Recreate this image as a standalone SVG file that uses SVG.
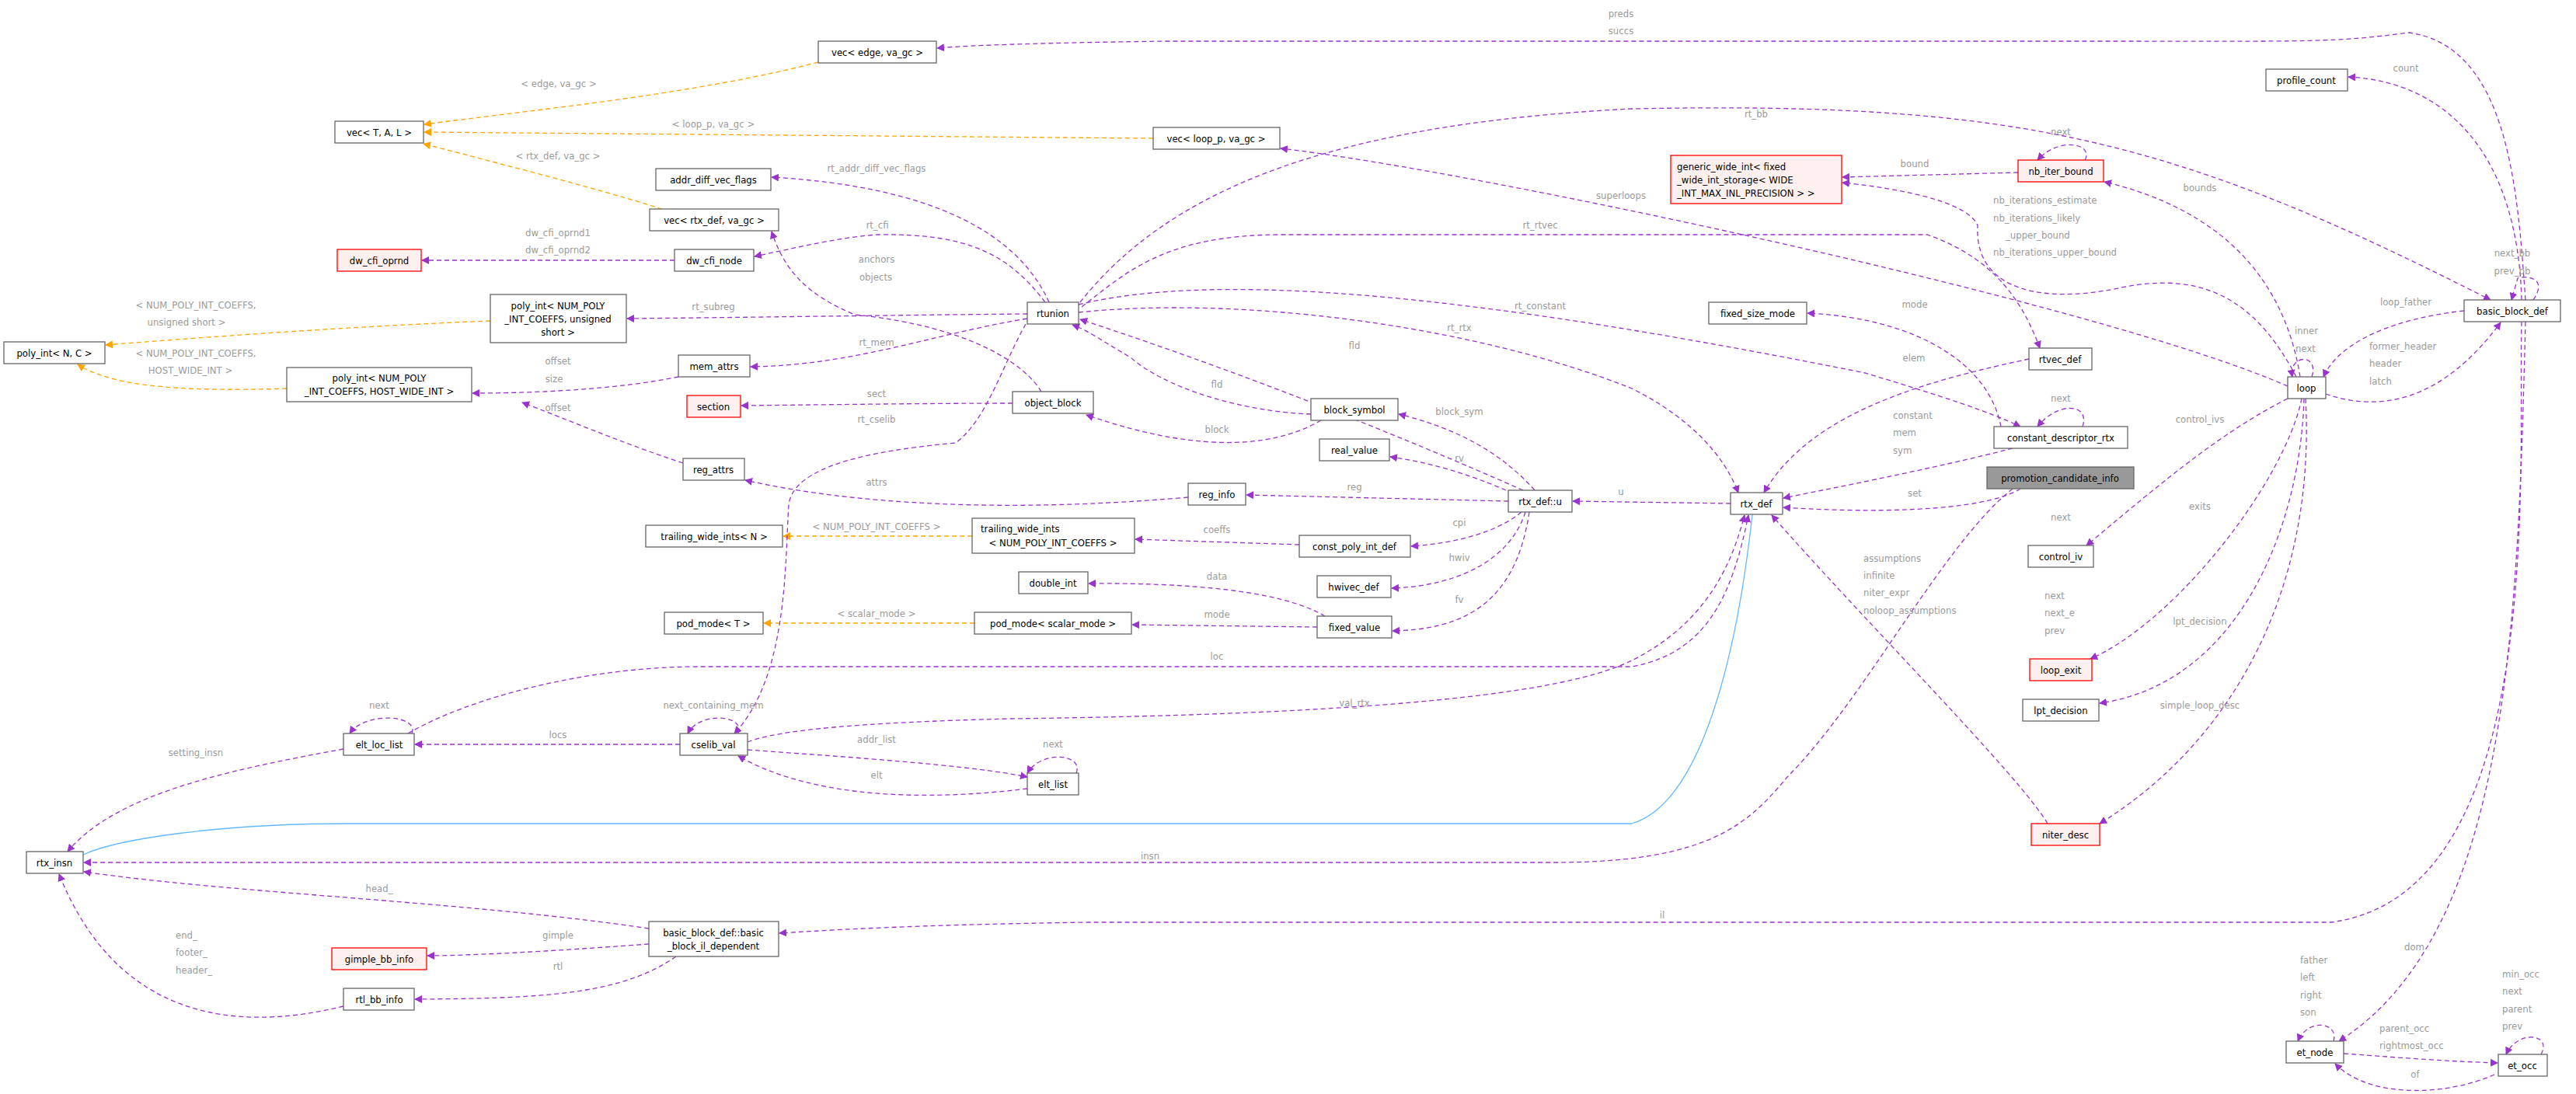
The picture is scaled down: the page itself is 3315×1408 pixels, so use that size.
<svg xmlns="http://www.w3.org/2000/svg" width="3315" height="1408" viewBox="0 0 3315 1408">
<defs>
<marker id="ap" viewBox="0 0 10 10" refX="9" refY="5" markerWidth="10" markerHeight="10" markerUnits="userSpaceOnUse" orient="auto"><path d="M0,0 L10,5 L0,10 z" fill="#9a32cd"/></marker>
<marker id="ao" viewBox="0 0 10 10" refX="9" refY="5" markerWidth="10" markerHeight="10" markerUnits="userSpaceOnUse" orient="auto"><path d="M0,0 L10,5 L0,10 z" fill="#ffa500"/></marker>
</defs>
<style>
.n rect{fill:#fff;stroke:#666;stroke-width:1.3}
.n.r rect{fill:#fff0f0;stroke:#ff0000}
.n.g rect{fill:#999;stroke:#666}
text{font-family:"DejaVu Sans Condensed","DejaVu Sans",sans-serif;font-size:13px}
.n text{fill:#000;text-anchor:middle}
.l{fill:#9a9a9a;text-anchor:middle}
.ls{fill:#9a9a9a;text-anchor:start}
.p{fill:none;stroke:#9a32cd;stroke-width:1.3;stroke-dasharray:6,4;marker-end:url(#ap)}
.o{fill:none;stroke:#ffa500;stroke-width:1.3;stroke-dasharray:6,4;marker-end:url(#ao)}
.b{fill:none;stroke:#63b8ff;stroke-width:1.3}
</style>
<rect width="3315" height="1408" fill="#fff"/>
<g id="edges">
<path class="o" d="M1053,80 C900,120 700,140 546,160"/>
<path class="o" d="M1484,178 L546,170"/>
<path class="o" d="M852,269 C760,240 640,210 545,185"/>
<path class="o" d="M631,413 C450,420 250,435 136,444"/>
<path class="o" d="M369,500 C220,505 140,495 100,469"/>
<path class="o" d="M1251,690 L1008,690"/>
<path class="o" d="M1254,802 L983,802"/>
<path class="p" d="M868,335 L543,335"/>
<path class="p" d="M3250,386 C3240,250 3230,60 3100,42 C3000,55 2980,53 2700,53 L1500,53 C1350,55 1250,58 1206,62"/>
<path class="p" d="M3245,386 C3240,200 3150,105 3022,99"/>
<path class="p" d="M3260,386 C3280,356 3250,355 3240,358 L3232,386"/>
<path class="p" d="M3171,400 C3080,410 3010,440 2990,485"/>
<path class="p" d="M2993,507 C3060,530 3140,520 3218,415"/>
<path class="p" d="M2975,485 C2985,455 2945,455 2950,485"/>
<path class="p" d="M2944,497 C2700,390 1900,220 1648,191"/>
<path class="p" d="M2960,485 C2940,360 2860,270 2708,234"/>
<path class="p" d="M2955,485 C2900,380 2830,350 2730,370 C2640,390 2540,380 2545,290 C2530,255 2420,240 2371,235"/>
<path class="p" d="M2597,222 L2371,228"/>
<path class="p" d="M2683,206 C2695,185 2650,175 2622,206"/>
<path class="p" d="M2944,513 C2850,560 2760,640 2685,702"/>
<path class="p" d="M2962,513 C2940,620 2800,800 2690,848"/>
<path class="p" d="M2965,513 C2960,680 2880,880 2702,905"/>
<path class="p" d="M2967,513 C2980,750 2880,950 2702,1060"/>
<path class="p" d="M1390,389 C1500,250 1700,160 2100,140 C2600,130 2800,180 3205,386"/>
<path class="p" d="M1392,395 C1450,350 1500,302 1650,302 L2480,302 C2560,330 2600,380 2625,448"/>
<path class="p" d="M1345,389 C1300,330 1250,300 1130,302 C1080,305 1020,320 971,330"/>
<path class="p" d="M1350,389 C1310,300 1200,240 993,228"/>
<path class="p" d="M1322,404 C1200,405 1000,408 807,410"/>
<path class="p" d="M1322,410 C1200,430 1100,470 966,472"/>
<path class="p" d="M1303,519 C1200,519 1050,521 954,522"/>
<path class="p" d="M1340,504 C1320,470 1250,420 1100,405 C1040,380 1010,350 993,298"/>
<path class="p" d="M1320,417 C1290,470 1270,540 1230,570 C1120,580 1020,600 1015,650 C1010,720 1015,870 945,944"/>
<path class="p" d="M1700,541 C1650,570 1560,590 1398,534"/>
<path class="p" d="M1687,533 C1600,530 1500,500 1455,460 C1420,440 1400,425 1380,418"/>
<path class="p" d="M1960,631 C1800,560 1600,480 1390,411"/>
<path class="p" d="M1975,631 C1930,580 1870,550 1800,533"/>
<path class="p" d="M1938,631 C1890,610 1840,595 1789,588"/>
<path class="p" d="M1941,645 L1604,637"/>
<path class="p" d="M1529,640 C1300,660 1100,650 959,618"/>
<path class="p" d="M879,596 C800,570 730,540 672,518"/>
<path class="p" d="M873,485 C800,500 700,506 608,506"/>
<path class="p" d="M1958,659 C1920,690 1860,700 1816,703"/>
<path class="p" d="M1672,701 L1461,694"/>
<path class="p" d="M1963,659 C1940,730 1860,755 1791,757"/>
<path class="p" d="M1968,659 C1950,780 1880,810 1792,812"/>
<path class="p" d="M1705,793 C1650,760 1530,750 1401,751"/>
<path class="p" d="M1695,807 L1457,804"/>
<path class="p" d="M2227,648 L2024,645"/>
<path class="p" d="M1388,402 C1600,380 1900,420 2100,500 C2180,540 2220,590 2237,634"/>
<path class="p" d="M1388,392 C1600,340 2000,400 2400,480 C2500,510 2560,530 2600,549"/>
<path class="p" d="M2590,577 C2500,600 2400,620 2295,641"/>
<path class="p" d="M2680,549 C2690,520 2650,515 2622,549"/>
<path class="p" d="M2575,549 C2560,470 2470,410 2326,403"/>
<path class="p" d="M2611,462 C2480,490 2330,530 2270,634"/>
<path class="p" d="M2600,629 C2550,660 2400,660 2295,653"/>
<path class="p" d="M2590,629 C2500,700 2400,900 2300,1000 C2250,1060 2200,1110 2000,1110 L108,1110"/>
<path class="p" d="M2635,1060 C2600,1000 2400,800 2280,663"/>
<path class="p" d="M525,944 C600,900 750,858 900,858 L2100,858 C2200,840 2230,760 2250,663"/>
<path class="p" d="M962,955 C1000,940 1100,930 1300,925 C1700,920 2000,900 2100,850 C2200,800 2230,720 2245,663"/>
<path class="p" d="M875,958 L534,958"/>
<path class="p" d="M950,944 C960,920 900,915 885,944"/>
<path class="p" d="M962,965 C1100,975 1250,985 1322,1000"/>
<path class="p" d="M1322,1015 C1200,1030 1050,1030 950,973"/>
<path class="p" d="M1385,995 C1395,970 1340,965 1322,995"/>
<path class="p" d="M530,944 C540,920 470,915 450,944"/>
<path class="p" d="M442,964 C300,990 150,1020 87,1096"/>
<path class="b" d="M107,1100 C150,1080 280,1060 450,1060 L2100,1060 C2200,1030 2240,800 2255,662"/>
<path class="p" d="M835,1195 C600,1160 300,1150 108,1122"/>
<path class="p" d="M835,1215 C700,1225 600,1230 550,1230"/>
<path class="p" d="M870,1231 C800,1280 700,1285 534,1286"/>
<path class="p" d="M442,1295 C300,1330 150,1310 76,1125"/>
<path class="p" d="M3245,414 C3240,600 3280,1150 3000,1187 L1400,1187 C1200,1190 1100,1195 1003,1201"/>
<path class="p" d="M3250,414 C3240,800 3230,1200 3010,1340"/>
<path class="p" d="M3003,1340 C3010,1315 2970,1310 2957,1340"/>
<path class="p" d="M3016,1356 C3100,1362 3150,1366 3214,1368"/>
<path class="p" d="M3210,1383 C3150,1410 3050,1415 3005,1369"/>
<path class="p" d="M3270,1357 C3285,1330 3240,1325 3225,1357"/>
</g>
<g id="n_vec_edge" class="n"><rect x="1053" y="53" width="152" height="28"/><text x="1129" y="72">vec&lt; edge, va_gc &gt;</text></g>
<g id="n_vec_tal" class="n"><rect x="431" y="156" width="114" height="28"/><text x="488" y="175">vec&lt; T, A, L &gt;</text></g>
<g id="n_vec_loop" class="n"><rect x="1484" y="164" width="163" height="28"/><text x="1565" y="183">vec&lt; loop_p, va_gc &gt;</text></g>
<g id="n_adv" class="n"><rect x="844" y="217" width="148" height="28"/><text x="918" y="236">addr_diff_vec_flags</text></g>
<g id="n_vec_rtx" class="n"><rect x="836" y="269" width="166" height="28"/><text x="919" y="288">vec&lt; rtx_def, va_gc &gt;</text></g>
<g id="n_dwo" class="n r"><rect x="434" y="321" width="108" height="28"/><text x="488" y="340">dw_cfi_oprnd</text></g>
<g id="n_dwn" class="n"><rect x="868" y="321" width="102" height="28"/><text x="919" y="340">dw_cfi_node</text></g>
<g id="n_pius" class="n"><rect x="631" y="379" width="175" height="62"/><text x="718" y="398">poly_int&lt; NUM_POLY</text><text x="718" y="415">_INT_COEFFS, unsigned</text><text x="718" y="432">short &gt;</text></g>
<g id="n_pinc" class="n"><rect x="5" y="440" width="130" height="28"/><text x="70" y="459">poly_int&lt; N, C &gt;</text></g>
<g id="n_mem" class="n"><rect x="873" y="457" width="92" height="28"/><text x="919" y="476">mem_attrs</text></g>
<g id="n_pihwi" class="n"><rect x="369" y="473" width="238" height="44"/><text x="488" y="491">poly_int&lt; NUM_POLY</text><text x="488" y="508">_INT_COEFFS, HOST_WIDE_INT &gt;</text></g>
<g id="n_section" class="n r"><rect x="884" y="509" width="69" height="28"/><text x="918" y="528">section</text></g>
<g id="n_regattrs" class="n"><rect x="879" y="590" width="79" height="28"/><text x="918" y="609">reg_attrs</text></g>
<g id="n_twin" class="n"><rect x="831" y="676" width="176" height="28"/><text x="919" y="695">trailing_wide_ints&lt; N &gt;</text></g>
<g id="n_podt" class="n"><rect x="855" y="788" width="127" height="28"/><text x="918" y="807">pod_mode&lt; T &gt;</text></g>
<g id="n_ell" class="n"><rect x="442" y="944" width="91" height="28"/><text x="488" y="963">elt_loc_list</text></g>
<g id="n_cselib" class="n"><rect x="875" y="944" width="87" height="28"/><text x="918" y="963">cselib_val</text></g>
<g id="n_rtunion" class="n"><rect x="1322" y="389" width="66" height="28"/><text x="1355" y="408">rtunion</text></g>
<g id="n_objblock" class="n"><rect x="1303" y="504" width="104" height="28"/><text x="1355" y="523">object_block</text></g>
<g id="n_blocksym" class="n"><rect x="1687" y="513" width="112" height="28"/><text x="1743" y="532">block_symbol</text></g>
<g id="n_realv" class="n"><rect x="1698" y="565" width="90" height="28"/><text x="1743" y="584">real_value</text></g>
<g id="n_reginfo" class="n"><rect x="1529" y="622" width="74" height="28"/><text x="1566" y="641">reg_info</text></g>
<g id="n_u" class="n"><rect x="1941" y="631" width="82" height="28"/><text x="1982" y="650">rtx_def::u</text></g>
<g id="n_twinum" class="n"><rect x="1251" y="667" width="209" height="45"/><text x="1262" y="685" style="text-anchor:start">trailing_wide_ints</text><text x="1355" y="703">&lt; NUM_POLY_INT_COEFFS &gt;</text></g>
<g id="n_cpid" class="n"><rect x="1672" y="689" width="143" height="28"/><text x="1743" y="708">const_poly_int_def</text></g>
<g id="n_dint" class="n"><rect x="1311" y="736" width="89" height="28"/><text x="1355" y="755">double_int</text></g>
<g id="n_hwivec" class="n"><rect x="1695" y="741" width="95" height="28"/><text x="1742" y="760">hwivec_def</text></g>
<g id="n_podsm" class="n"><rect x="1254" y="788" width="202" height="28"/><text x="1355" y="807">pod_mode&lt; scalar_mode &gt;</text></g>
<g id="n_fixv" class="n"><rect x="1695" y="793" width="96" height="28"/><text x="1743" y="812">fixed_value</text></g>
<g id="n_eltlist" class="n"><rect x="1322" y="995" width="66" height="28"/><text x="1355" y="1014">elt_list</text></g>
<g id="n_gwi" class="n r"><rect x="2150" y="200" width="220" height="62"/><text x="2158" y="219" style="text-anchor:start">generic_wide_int&lt; fixed</text><text x="2158" y="236" style="text-anchor:start">_wide_int_storage&lt; WIDE</text><text x="2158" y="253" style="text-anchor:start">_INT_MAX_INL_PRECISION &gt; &gt;</text></g>
<g id="n_nib" class="n r"><rect x="2597" y="206" width="110" height="28"/><text x="2652" y="225">nb_iter_bound</text></g>
<g id="n_profile" class="n"><rect x="2916" y="89" width="105" height="28"/><text x="2968" y="108">profile_count</text></g>
<g id="n_bbd" class="n"><rect x="3171" y="386" width="124" height="28"/><text x="3233" y="405">basic_block_def</text></g>
<g id="n_fsm" class="n"><rect x="2199" y="389" width="126" height="28"/><text x="2262" y="408">fixed_size_mode</text></g>
<g id="n_rtvec" class="n"><rect x="2611" y="448" width="81" height="28"/><text x="2651" y="467">rtvec_def</text></g>
<g id="n_loop" class="n"><rect x="2944" y="485" width="49" height="28"/><text x="2968" y="504">loop</text></g>
<g id="n_cdr" class="n"><rect x="2566" y="549" width="172" height="28"/><text x="2652" y="568">constant_descriptor_rtx</text></g>
<g id="n_pci" class="n g"><rect x="2557" y="601" width="189" height="28"/><text x="2651" y="620">promotion_candidate_info</text></g>
<g id="n_rtxdef" class="n"><rect x="2227" y="634" width="67" height="28"/><text x="2260" y="653">rtx_def</text></g>
<g id="n_civ" class="n"><rect x="2610" y="702" width="84" height="28"/><text x="2652" y="721">control_iv</text></g>
<g id="n_lexit" class="n r"><rect x="2612" y="848" width="80" height="28"/><text x="2652" y="867">loop_exit</text></g>
<g id="n_lpt" class="n"><rect x="2603" y="900" width="98" height="28"/><text x="2652" y="919">lpt_decision</text></g>
<g id="n_niter" class="n r"><rect x="2614" y="1060" width="88" height="28"/><text x="2658" y="1079">niter_desc</text></g>
<g id="n_etnode" class="n"><rect x="2942" y="1340" width="74" height="28"/><text x="2979" y="1359">et_node</text></g>
<g id="n_etocc" class="n"><rect x="3215" y="1357" width="63" height="28"/><text x="3246" y="1376">et_occ</text></g>
<g id="n_rtxinsn" class="n"><rect x="34" y="1096" width="73" height="28"/><text x="70" y="1115">rtx_insn</text></g>
<g id="n_bbil" class="n"><rect x="835" y="1186" width="167" height="45"/><text x="918" y="1205">basic_block_def::basic</text><text x="918" y="1222">_block_il_dependent</text></g>
<g id="n_gimple" class="n r"><rect x="427" y="1220" width="122" height="28"/><text x="488" y="1239">gimple_bb_info</text></g>
<g id="n_rtlbb" class="n"><rect x="442" y="1272" width="91" height="28"/><text x="488" y="1291">rtl_bb_info</text></g>
<g id="labels">
<text class="l" x="719" y="112">&lt; edge, va_gc &gt;</text>
<text class="l" x="918" y="164">&lt; loop_p, va_gc &gt;</text>
<text class="l" x="718" y="205">&lt; rtx_def, va_gc &gt;</text>
<text class="l" x="1128" y="221">rt_addr_diff_vec_flags</text>
<text class="l" x="718" y="304">dw_cfi_oprnd1</text>
<text class="l" x="718" y="326">dw_cfi_oprnd2</text>
<text class="l" x="918" y="399">rt_subreg</text>
<text class="l" x="252" y="397">&lt; NUM_POLY_INT_COEFFS,</text>
<text class="l" x="240" y="419">unsigned short &gt;</text>
<text class="l" x="252" y="459">&lt; NUM_POLY_INT_COEFFS,</text>
<text class="l" x="245" y="481">HOST_WIDE_INT &gt;</text>
<text class="l" x="718" y="469">offset</text>
<text class="l" x="713" y="492">size</text>
<text class="l" x="2086" y="22">preds</text>
<text class="l" x="2086" y="44">succs</text>
<text class="l" x="2086" y="256">superloops</text>
<text class="l" x="1129" y="294">rt_cfi</text>
<text class="l" x="1982" y="294">rt_rtvec</text>
<text class="l" x="1128" y="338">anchors</text>
<text class="l" x="1127" y="361">objects</text>
<text class="l" x="1982" y="398">rt_constant</text>
<text class="l" x="1878" y="426">rt_rtx</text>
<text class="l" x="1743" y="449">fld</text>
<text class="l" x="1566" y="499">fld</text>
<text class="l" x="1128" y="445">rt_mem</text>
<text class="l" x="2260" y="151">rt_bb</text>
<text class="l" x="3096" y="92">count</text>
<text class="l" x="2652" y="174">next</text>
<text class="l" x="2464" y="215">bound</text>
<text class="l" x="2831" y="246">bounds</text>
<text class="ls" x="2565" y="262">nb_iterations_estimate</text>
<text class="ls" x="2565" y="285">nb_iterations_likely</text>
<text class="ls" x="2581" y="307">_upper_bound</text>
<text class="ls" x="2565" y="329">nb_iterations_upper_bound</text>
<text class="l" x="3233" y="330">next_bb</text>
<text class="l" x="3233" y="353">prev_bb</text>
<text class="l" x="3096" y="393">loop_father</text>
<text class="l" x="2968" y="430">inner</text>
<text class="l" x="2967" y="453">next</text>
<text class="ls" x="3049" y="450">former_header</text>
<text class="ls" x="3049" y="472">header</text>
<text class="ls" x="3049" y="495">latch</text>
<text class="l" x="2464" y="396">mode</text>
<text class="l" x="2463" y="465">elem</text>
<text class="l" x="718" y="529">offset</text>
<text class="l" x="488" y="912">next</text>
<text class="l" x="918" y="912">next_containing_mem</text>
<text class="l" x="718" y="950">locs</text>
<text class="l" x="252" y="973">setting_insn</text>
<text class="l" x="1128" y="682">&lt; NUM_POLY_INT_COEFFS &gt;</text>
<text class="l" x="1128" y="794">&lt; scalar_mode &gt;</text>
<text class="l" x="1128" y="511">sect</text>
<text class="l" x="1128" y="544">rt_cselib</text>
<text class="l" x="1566" y="557">block</text>
<text class="l" x="1878" y="534">block_sym</text>
<text class="l" x="1878" y="594">rv</text>
<text class="l" x="1128" y="625">attrs</text>
<text class="l" x="1743" y="631">reg</text>
<text class="l" x="2086" y="637">u</text>
<text class="l" x="1566" y="686">coeffs</text>
<text class="l" x="1878" y="677">cpi</text>
<text class="l" x="1878" y="722">hwiv</text>
<text class="l" x="1566" y="746">data</text>
<text class="l" x="1878" y="776">fv</text>
<text class="l" x="1566" y="795">mode</text>
<text class="l" x="1566" y="849">loc</text>
<text class="l" x="1743" y="909">val_rtx</text>
<text class="l" x="1128" y="956">addr_list</text>
<text class="l" x="1355" y="962">next</text>
<text class="l" x="1128" y="1002">elt</text>
<text class="l" x="2652" y="517">next</text>
<text class="ls" x="2436" y="539">constant</text>
<text class="ls" x="2436" y="561">mem</text>
<text class="ls" x="2436" y="584">sym</text>
<text class="l" x="2464" y="639">set</text>
<text class="l" x="2831" y="544">control_ivs</text>
<text class="l" x="2831" y="656">exits</text>
<text class="l" x="2652" y="670">next</text>
<text class="ls" x="2398" y="723">assumptions</text>
<text class="ls" x="2398" y="745">infinite</text>
<text class="ls" x="2398" y="767">niter_expr</text>
<text class="ls" x="2398" y="790">noloop_assumptions</text>
<text class="ls" x="2631" y="771">next</text>
<text class="ls" x="2631" y="793">next_e</text>
<text class="ls" x="2631" y="816">prev</text>
<text class="l" x="2831" y="804">lpt_decision</text>
<text class="l" x="2831" y="912">simple_loop_desc</text>
<text class="l" x="488" y="1148">head_</text>
<text class="l" x="718" y="1208">gimple</text>
<text class="l" x="718" y="1248">rtl</text>
<text class="ls" x="226" y="1208">end_</text>
<text class="ls" x="226" y="1230">footer_</text>
<text class="ls" x="226" y="1253">header_</text>
<text class="l" x="1480" y="1106">insn</text>
<text class="l" x="2139" y="1182">il</text>
<text class="l" x="3107" y="1223">dom</text>
<text class="ls" x="2960" y="1240">father</text>
<text class="ls" x="2960" y="1262">left</text>
<text class="ls" x="2960" y="1285">right</text>
<text class="ls" x="2960" y="1307">son</text>
<text class="ls" x="3062" y="1328">parent_occ</text>
<text class="ls" x="3062" y="1350">rightmost_occ</text>
<text class="l" x="3108" y="1387">of</text>
<text class="ls" x="3220" y="1258">min_occ</text>
<text class="ls" x="3220" y="1280">next</text>
<text class="ls" x="3220" y="1303">parent</text>
<text class="ls" x="3220" y="1325">prev</text>
</g>
</svg>
